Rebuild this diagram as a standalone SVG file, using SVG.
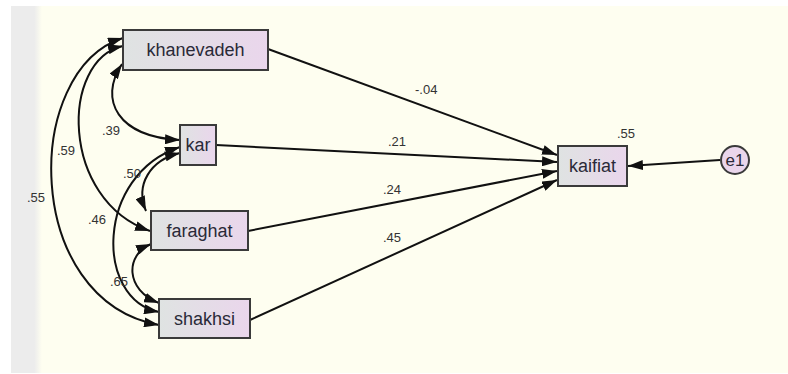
<svg xmlns="http://www.w3.org/2000/svg" width="788" height="374" viewBox="0 0 788 374">
<defs>
<linearGradient id="bg" x1="0" y1="0" x2="1" y2="0">
<stop offset="0" stop-color="#dfe3e2"/>
<stop offset="1" stop-color="#ead6ec"/>
</linearGradient>
<linearGradient id="strip" x1="0" y1="0" x2="1" y2="0">
<stop offset="0" stop-color="#ececec"/>
<stop offset="0.75" stop-color="#ececec"/>
<stop offset="1" stop-color="#fefef0"/>
</linearGradient>
<marker id="ah" viewBox="0 0 15 10" refX="15" refY="5" markerWidth="15" markerHeight="10" markerUnits="userSpaceOnUse" orient="auto-start-reverse">
<path d="M0,0 L15,5 L0,10 z" fill="#111"/>
</marker>
<style>
.box{fill:url(#bg);stroke:#3a3a3a;stroke-width:2}
.nt{font-family:"Liberation Sans",Arial,sans-serif;font-size:18px;fill:#2a2a38;text-anchor:middle}
.lb{font-family:"Liberation Sans",Arial,sans-serif;font-size:13px;fill:#333}
.ln{fill:none;stroke:#111;stroke-width:2}
.one{marker-end:url(#ah)}
.two{marker-start:url(#ah);marker-end:url(#ah)}
</style>
</defs>
<rect x="0" y="0" width="788" height="374" fill="#ffffff"/>
<rect x="11" y="6" width="777" height="367" fill="#fefef0"/>
<rect x="11" y="6" width="31" height="367" fill="url(#strip)"/>

<g id="connectors">
<line class="ln one" x1="268" y1="49" x2="557" y2="155"/>
<line class="ln one" x1="216" y1="145" x2="557" y2="162"/>
<line class="ln one" x1="248" y1="231" x2="557" y2="171"/>
<line class="ln one" x1="250" y1="320" x2="557" y2="180"/>
<line class="ln one" x1="720" y1="160" x2="628" y2="166"/>
<path class="ln two" d="M123,38 C22,70 22,300 159,325"/>
<path class="ln two" d="M123,46 C60,60 60,200 150,231"/>
<path class="ln two" d="M122,64 C98,100 118,137 180,140"/>
<path class="ln two" d="M180,153 C150,160 135,185 146,211"/>
<path class="ln two" d="M180,147 C95,175 95,300 159,312"/>
<path class="ln two" d="M151,244 C125,255 125,290 159,303"/>
</g>

<g id="khanevadeh"><rect class="box" x="123" y="30" width="145" height="40"/><text class="nt" x="195.5" y="56">khanevadeh</text></g>
<g id="kar"><rect class="box" x="180" y="125" width="36" height="40"/><text class="nt" x="198" y="151">kar</text></g>
<g id="faraghat"><rect class="box" x="151" y="211" width="97" height="39"/><text class="nt" x="199.5" y="237">faraghat</text></g>
<g id="shakhsi"><rect class="box" x="159" y="299" width="91" height="39"/><text class="nt" x="204.5" y="325">shakhsi</text></g>
<g id="kaifiat"><rect class="box" x="558" y="146" width="69" height="40"/><text class="nt" x="592.5" y="172">kaifiat</text><text class="lb" x="617" y="138">.55</text></g>
<g id="e1"><circle cx="735" cy="160" r="14" fill="#ead6ec" stroke="#3a3a3a" stroke-width="2"/><text class="nt" x="735" y="166" style="font-size:17px">e1</text></g>

<g id="labels">
<text class="lb" x="415" y="94">-.04</text>
<text class="lb" x="388" y="146">.21</text>
<text class="lb" x="383" y="194">.24</text>
<text class="lb" x="383" y="242">.45</text>
<text class="lb" x="102" y="135">.39</text>
<text class="lb" x="57" y="155">.59</text>
<text class="lb" x="27" y="202">.55</text>
<text class="lb" x="88" y="224">.46</text>
<text class="lb" x="123" y="178">.50</text>
<text class="lb" x="110" y="286">.65</text>
</g>
</svg>
